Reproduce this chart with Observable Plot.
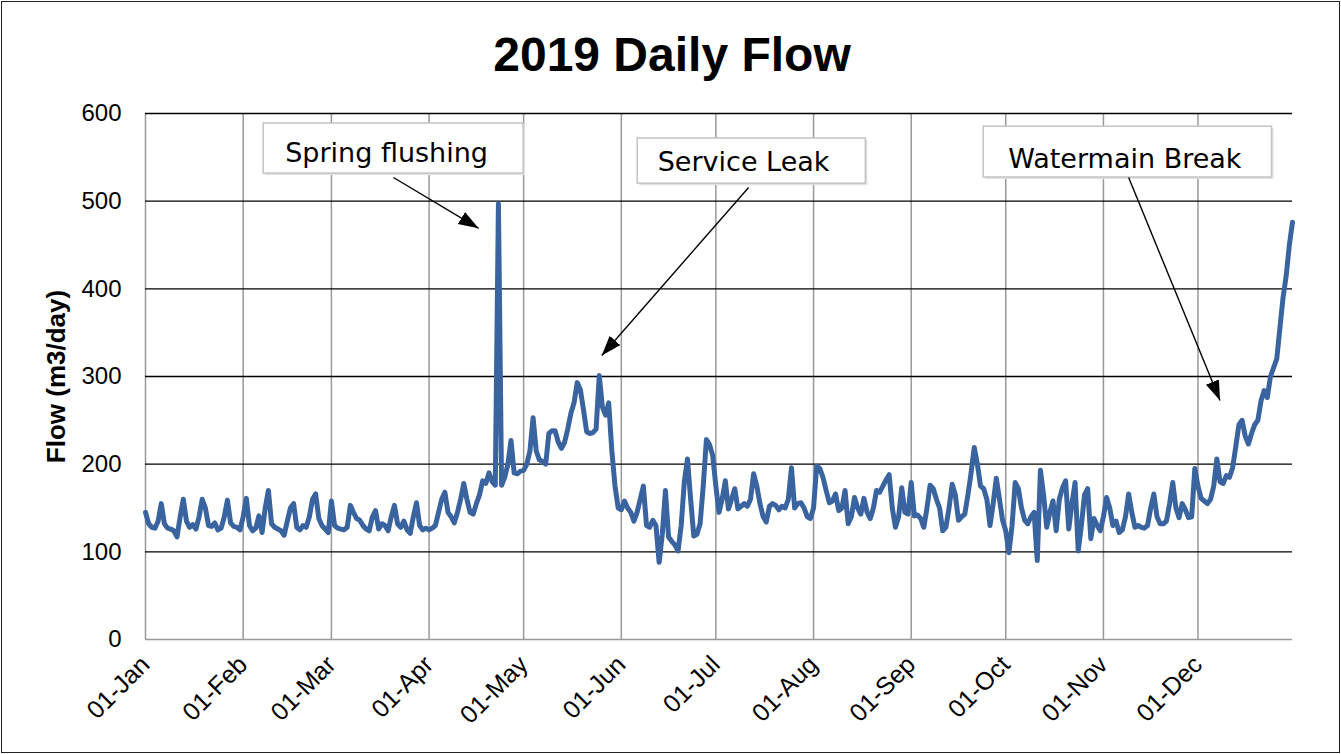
<!DOCTYPE html>
<html><head><meta charset="utf-8">
<script src="https://cdn.jsdelivr.net/npm/d3@7"></script>
<script src="https://cdn.jsdelivr.net/npm/@observablehq/plot@0.6"></script>
<style>
body{margin:0;background:#fff;}
#chart svg{display:block;outline:1.5px solid #222;outline-offset:-2px;}
</style></head><body><div id="chart"></div>
<script>
// Daily flow values (m3/day), 2019, one array per month
const flowJan = [145,132,128,127,135,155,132,127,126,124,117,140,160,135,128,131,126,140,160,150,130,129,133,125,127,140,159,133,129,128,125];
const flowFeb = [140,161,130,124,127,141,122,150,170,132,128,126,124,119,135,150,155,128,125,130,128,140,160,166,138,130,126,122];
const flowMar = [158,130,127,126,125,128,153,145,138,136,130,126,124,140,147,126,132,130,124,140,153,132,128,135,125,121,140,156,130,125,127];
const flowApr = [125,127,130,145,160,168,145,140,133,145,160,178,160,145,143,155,165,181,178,190,180,176,497,176,185,200,227,190,189,192];
const flowMay = [193,200,215,253,215,205,203,200,235,238,238,225,218,225,240,258,270,293,285,262,237,235,236,240,301,265,256,270,215,175,150];
const flowJun = [148,158,150,145,135,145,160,175,130,128,136,130,88,120,170,117,112,108,101,130,180,206,160,118,120,132,175,228,222,210];
const flowJul = [175,145,160,181,149,160,172,149,152,155,152,160,189,175,155,140,134,152,155,153,148,152,150,160,196,150,155,156,150,140,138];
const flowAug = [150,198,195,185,170,156,158,166,147,150,170,132,140,162,150,143,161,145,138,150,170,168,175,182,188,150,128,140,173,145,143];
const flowSep = [179,141,142,138,128,150,176,172,160,150,124,128,150,177,165,136,140,143,165,190,219,200,175,172,160,130,155,184,160,136];
const flowOct = [124,99,130,179,172,150,136,132,140,145,90,193,165,128,145,158,124,160,173,181,126,155,179,101,130,165,172,115,138,130,124];
const flowNov = [140,162,150,130,135,122,125,140,166,145,128,130,128,127,130,150,166,140,132,132,135,155,179,150,139,155,148,139,140,195];
const flowDec = [175,161,158,155,160,175,206,180,178,187,185,196,220,245,250,232,223,235,245,250,272,284,276,300,310,320,355,390,415,450,476];

const monthTickLabels = ["2019-01-01","2019-02-01","2019-03-01","2019-04-01","2019-05-01","2019-06-01",
  "2019-07-01","2019-08-01","2019-09-01","2019-10-01","2019-11-01","2019-12-01"];
const yTicks = [0,100,200,300,400,500,600];

const titleText = "2019 Daily Flow";
const yLabel = "Flow (m3/day)";

// Annotations (day-of-year and flow units)
const annoText   = ["Spring flushing","Service Leak","Watermain Break"];
const annoDay    = [76.5, 189.8, 310.8];
const annoValue  = [554, 544, 548];
const boxDay1    = [37.5, 156.2, 266];
const boxDay2    = [120, 228.6, 357.5];
const boxValue1  = [531.5, 520, 527];
const boxValue2  = [588.6, 571.5, 585];
const arrowDay1  = [78.7, 191.4, 312];
const arrowVal1  = [527, 515.6, 527];
const arrowDay2  = [105.7, 144.8, 341];
const arrowVal2  = [469, 324, 272.6];

const start = Date.UTC(2019,0,1);
const dayToDate = n => new Date(start + n*864e5);
const flow = [...flowJan,...flowFeb,...flowMar,...flowApr,...flowMay,...flowJun,
              ...flowJul,...flowAug,...flowSep,...flowOct,...flowNov,...flowDec];
const data = flow.map((v,i) => ({date: dayToDate(i), flow: v}));
const monthTicks = monthTickLabels.map(s => new Date(s));
const annos = annoText.map((t,i) => ({
  text: t, x: dayToDate(annoDay[i]), y: annoValue[i],
  bx1: dayToDate(boxDay1[i]), bx2: dayToDate(boxDay2[i]), by1: boxValue1[i], by2: boxValue2[i],
  ax1: dayToDate(arrowDay1[i]), ay1: arrowVal1[i], ax2: dayToDate(arrowDay2[i]), ay2: arrowVal2[i]
}));

const chart = Plot.plot({
  width: 1341, height: 754,
  marginLeft: 145, marginRight: 49, marginTop: 113, marginBottom: 115,
  style: {fontFamily: "'Liberation Sans', Arial, sans-serif", background: "#fff", color: "#000"},
  x: {type: "utc", domain: [new Date("2019-01-01"), new Date("2019-12-31")]},
  y: {domain: [0, 600]},
  marks: [
    Plot.ruleX(monthTicks, {stroke: "#999", strokeWidth: 1.5}),
    Plot.ruleY(yTicks.filter(d => d > 0), {stroke: "#000", strokeWidth: 1.4}),
    Plot.ruleY([0], {stroke: "#999", strokeWidth: 1.5}),
    Plot.axisY({ticks: yTicks, tickSize: 0, tickPadding: 24, fontSize: 24, label: null}),
    Plot.axisX({ticks: monthTicks, tickFormat: "%d-%b", tickRotate: -45, tickSize: 0, tickPadding: 21, fontSize: 25, label: null}),
    Plot.lineY(data, {x: "date", y: "flow", stroke: "#3A64A0", strokeWidth: 5, strokeLinejoin: "round"}),
    Plot.rect(annos, {x1: "bx1", x2: "bx2", y1: "by1", y2: "by2", fill: "#e2e2e2", dx: 2, dy: 2}),
    Plot.rect(annos, {x1: "bx1", x2: "bx2", y1: "by1", y2: "by2", fill: "#fff", stroke: "#c4c4c4", strokeWidth: 1.5}),
    Plot.text(annos, {x: "x", y: "y", text: "text", fontSize: 27, fontFamily: "'DejaVu Sans', Verdana, sans-serif", fill: "#000"}),
    Plot.link(annos, {x1: "ax1", y1: "ay1", x2: "ax2", y2: "ay2", stroke: "#000", strokeWidth: 1.4}),
    Plot.text([titleText], {text: d => d, frameAnchor: "top", lineAnchor: "middle", dx: -47, dy: -58, fontSize: 48, fontWeight: "bold"}),
    Plot.text([yLabel], {text: d => d, frameAnchor: "left", textAnchor: "middle", lineAnchor: "middle", dx: -89, rotate: -90, fontSize: 26, fontWeight: "bold"})
  ]
});

const defs = d3.select(chart).append("defs");
defs.append("marker").attr("id", "tri").attr("markerUnits", "userSpaceOnUse")
  .attr("markerWidth", 22).attr("markerHeight", 16).attr("refX", 20).attr("refY", 7)
  .attr("orient", "auto")
  .append("path").attr("d", "M0,0L20,7L0,14Z").attr("fill", "#000");
d3.select(chart).selectAll('g[aria-label="link"] path').attr("marker-end", "url(#tri)");

document.getElementById("chart").appendChild(chart);
</script></body></html>
